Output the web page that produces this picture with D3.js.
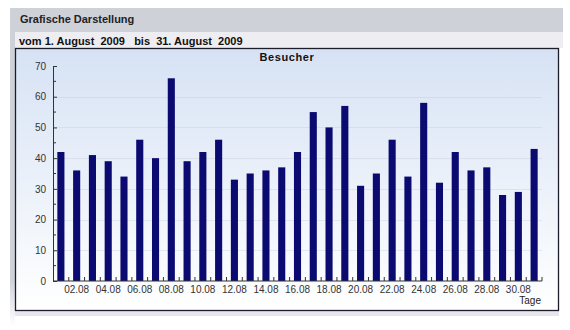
<!DOCTYPE html>
<html>
<head>
<meta charset="utf-8">
<script src="https://cdn.jsdelivr.net/npm/d3@7"></script>
<style>
  html, body { margin: 0; padding: 0; background: #fff; }
  svg { display: block; font-family: "Liberation Sans", Arial, sans-serif; }
</style>
</head>
<body>
<svg id="chart" width="570" height="330"></svg>
<script>
// Visitors per day, August 2009
const days = d3.range(1, 32);
const visitors = [42, 36, 41, 39, 34, 46, 40, 66, 39, 42, 46, 33, 35, 36, 37, 42,
                  55, 50, 57, 31, 35, 46, 34, 58, 32, 42, 36, 37, 28, 29, 43];
const yTicks = [0, 10, 20, 30, 40, 50, 60, 70];
const yMinorTicks = [5, 15, 25, 35, 45, 55, 65];
const xLabelDays = days.filter(d => d % 2 === 0);

const panelTitle = "Grafische Darstellung";
const rangeText = "vom 1. August  2009   bis  31. August  2009";
const chartTitle = "Besucher";
const xAxisTitle = "Tage";

const svg = d3.select("#chart");

// Panel frame: header bars and left edge
const defs = svg.append("defs");
const grad = defs.append("linearGradient")
  .attr("id", "bg").attr("x1", 0).attr("y1", 0).attr("x2", 0).attr("y2", 1);
grad.append("stop").attr("offset", "0%").attr("stop-color", "#d6e2f4");
grad.append("stop").attr("offset", "100%").attr("stop-color", "#ffffff");

const edge = defs.append("linearGradient")
  .attr("id", "edge").attr("x1", 0).attr("y1", 0).attr("x2", 0).attr("y2", 1);
edge.append("stop").attr("offset", "85%").attr("stop-color", "#cfd0d8");
edge.append("stop").attr("offset", "100%").attr("stop-color", "#ffffff");

svg.append("rect").attr("x", 10).attr("y", 8).attr("width", 5).attr("height", 318)
  .attr("fill", "url(#edge)");
svg.append("rect").attr("x", 10).attr("y", 8).attr("width", 553).attr("height", 24)
  .attr("fill", "#cfd1d9");
svg.append("rect").attr("x", 15).attr("y", 32).attr("width", 548).attr("height", 16)
  .attr("fill", "#ededf2");
svg.append("rect").attr("x", 15).attr("y", 311).attr("width", 544).attr("height", 5)
  .attr("fill", "#e6e6ec");

svg.append("text").attr("x", 20).attr("y", 23)
  .attr("font-size", 11).attr("font-weight", "bold").attr("fill", "#222")
  .text(panelTitle);
svg.append("text").attr("x", 19).attr("y", 45)
  .attr("font-size", 11).attr("font-weight", "bold").attr("fill", "#111")
  .attr("xml:space", "preserve").style("white-space", "pre")
  .text(rangeText);

// Chart box
svg.append("rect").attr("x", 15.5).attr("y", 48.5).attr("width", 543).attr("height", 262)
  .attr("fill", "url(#bg)").attr("stroke", "#1c1c2a").attr("stroke-width", 1.3);

svg.append("text").attr("x", 287).attr("y", 61).attr("text-anchor", "middle")
  .attr("font-size", 11).attr("font-weight", "bold").attr("letter-spacing", 0.6)
  .attr("fill", "#111").text(chartTitle);

// Scales
const x = d3.scaleBand().domain(days).range([53, 542]).padding(0);
const y = d3.scaleLinear().domain([0, 70]).range([281, 66]);
const barW = x.bandwidth() * 0.45;

// Gridlines
svg.append("g").selectAll("line").data(yTicks.filter(t => t > 0 && t < 70)).join("line")
  .attr("x1", 53).attr("x2", 542)
  .attr("y1", d => Math.round(y(d)) + 0.5).attr("y2", d => Math.round(y(d)) + 0.5)
  .attr("stroke", "#b8c0d0").attr("stroke-opacity", 0.28);

// Bars
svg.append("g").selectAll("rect").data(days).join("rect")
  .attr("x", d => x(d) + (x.bandwidth() - barW) / 2)
  .attr("width", barW)
  .attr("y", (d, i) => y(visitors[i]))
  .attr("height", (d, i) => y(0) - y(visitors[i]))
  .attr("fill", "#0a0a70");

// Y axis: ticks pointing right, labels on the left
const yAxis = svg.append("g").attr("transform", "translate(53,0)")
  .call(d3.axisLeft(y).tickValues(yTicks).tickSizeInner(-4).tickSizeOuter(0).tickPadding(7));
yAxis.select(".domain").attr("stroke", "#333");
yAxis.selectAll(".tick line").attr("stroke", "#333");
yAxis.selectAll("text").attr("font-size", 10).attr("fill", "#333")
  .attr("font-family", "Liberation Sans, Arial, sans-serif");
yAxis.append("g").selectAll("line").data(yMinorTicks).join("line")
  .attr("x1", 0).attr("x2", 3)
  .attr("y1", d => y(d)).attr("y2", d => y(d)).attr("stroke", "#333");

// X axis: labels under even days, small ticks at day boundaries pointing up
const xAxis = svg.append("g").attr("transform", "translate(0,281)")
  .call(d3.axisBottom(x).tickValues(xLabelDays).tickSize(0).tickPadding(5)
    .tickFormat(d => String(d).padStart(2, "0") + ".08"));
xAxis.select(".domain").remove();
xAxis.selectAll("text").attr("font-size", 10).attr("fill", "#333")
  .attr("font-family", "Liberation Sans, Arial, sans-serif");
xAxis.append("line").attr("x1", 53).attr("x2", 542).attr("stroke", "#333");
xAxis.append("g").selectAll("line").data(days).join("line")
  .attr("x1", d => x(d) + x.bandwidth()).attr("x2", d => x(d) + x.bandwidth())
  .attr("y1", 0).attr("y2", -4).attr("stroke", "#333");

svg.append("text").attr("x", 541).attr("y", 304).attr("text-anchor", "end")
  .attr("font-size", 10).attr("fill", "#222").text(xAxisTitle);
</script>
</body>
</html>
